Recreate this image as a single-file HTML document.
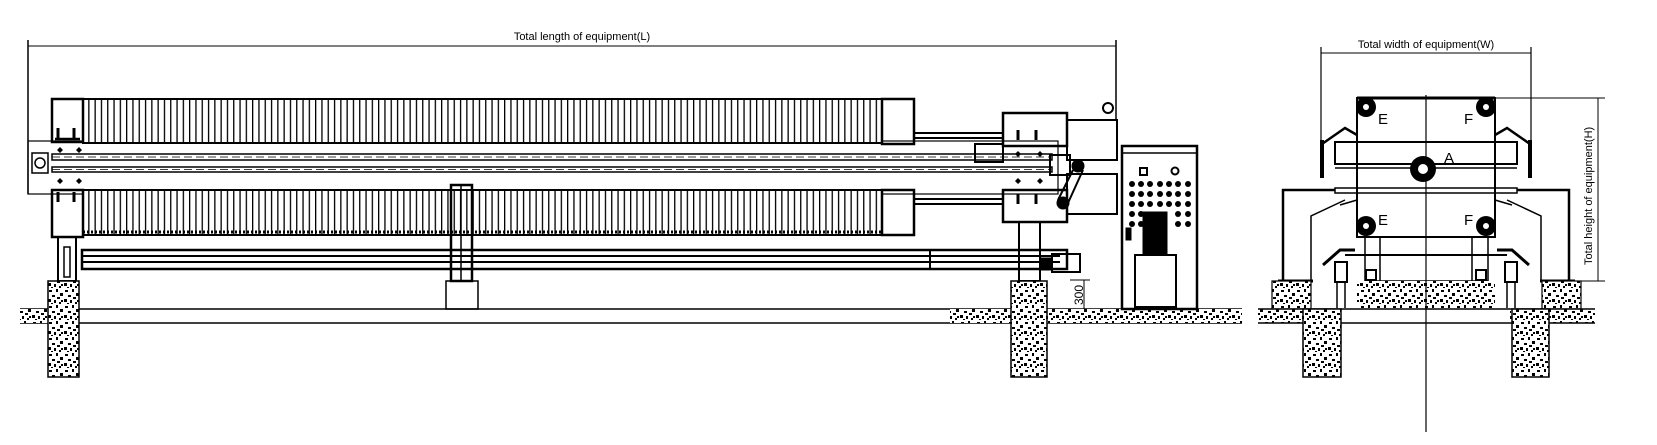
<!DOCTYPE html>
<html><head><meta charset="utf-8"><style>
html,body{margin:0;padding:0;background:#fff;width:1657px;height:445px;overflow:hidden}
svg{display:block}
text{font-family:"Liberation Sans",sans-serif;fill:#000}
</style></head><body>
<svg width="1657" height="445" viewBox="0 0 1657 445" xmlns="http://www.w3.org/2000/svg">
<defs>
<pattern id="pl" width="6.3" height="10" patternUnits="userSpaceOnUse">
<rect width="6.3" height="10" fill="#fff"/><rect x="0" width="1.3" height="10" fill="#000"/></pattern>
<pattern id="cc" width="16" height="16" patternUnits="userSpaceOnUse">
<rect width="16" height="16" fill="#fff"/>
<g fill="#000"><rect x="1" y="2" width="3" height="2"/><rect x="8" y="1" width="2" height="3"/><rect x="12" y="5" width="3" height="3"/><rect x="4" y="7" width="3" height="2"/><rect x="9" y="9" width="3" height="2"/><rect x="0" y="11" width="3" height="3"/><rect x="6" y="12" width="2" height="3"/><rect x="13" y="12" width="2" height="2"/><rect x="11" y="14" width="2" height="2"/><rect x="3" y="15" width="2" height="1"/></g></pattern>
</defs>
<g stroke="#000" fill="none">
<line x1="28" y1="46" x2="1116" y2="46" stroke-width="1"/>
<line x1="28" y1="40" x2="28" y2="194" stroke-width="1.5"/>
<line x1="1116" y1="40" x2="1116" y2="120" stroke-width="1.5"/>
<rect x="28" y="141" width="1030" height="53" stroke-width="1.2"/>
<rect x="52" y="154" width="1000" height="6" stroke-width="1.5"/>
<rect x="52" y="167" width="1000" height="5" stroke-width="1.5"/>
<line x1="52" y1="157" x2="1050" y2="157" stroke-dasharray="8 4" stroke-width="0.8"/>
<line x1="52" y1="169.5" x2="1050" y2="169.5" stroke-dasharray="8 4" stroke-width="0.8"/>
<rect x="32" y="153" width="16" height="20" stroke-width="1.5"/>
<circle cx="40" cy="163" r="5" stroke-width="1.5"/>
<rect x="83" y="99" width="799" height="44" fill="url(#pl)" stroke-width="2"/>
<rect x="83" y="190" width="799" height="45" fill="url(#pl)" stroke-width="2"/>
<line x1="83" y1="232" x2="882" y2="232" stroke-width="3" stroke-dasharray="2 2"/>
<rect x="52" y="99" width="31" height="43" stroke-width="2.5"/>
<rect x="52" y="190" width="31" height="47" stroke-width="2.5"/>
<rect x="882" y="99" width="32" height="45" stroke-width="2.5"/>
<rect x="882" y="190" width="32" height="45" stroke-width="2.5"/>
<path d="M58 138V128M74 138V128M58 192V202M74 192V202" stroke-width="3"/>
<line x1="55" y1="139" x2="80" y2="139" stroke-width="2.5"/>
<path d="M914 133H1003M914 138H1003M914 199H1003M914 204H1003" stroke-width="2"/>
<rect x="975" y="144" width="28" height="18" stroke-width="2"/>
<rect x="1003" y="113" width="64" height="33" stroke-width="2.5"/>
<rect x="1003" y="190" width="64" height="32" stroke-width="2.5"/>
<path d="M1018 140V130M1036 140V130M1018 194V204M1036 194V204" stroke-width="3"/>
<rect x="1067" y="120" width="50" height="40" stroke-width="2"/>
<rect x="1067" y="174" width="50" height="40" stroke-width="2"/>
<circle cx="1108" cy="108" r="5" stroke-width="2"/>
<rect x="1050" y="155" width="20" height="20" stroke-width="2"/>
<circle cx="1078" cy="166" r="6" fill="#000"/>
<circle cx="1063" cy="203" r="6" fill="#000"/>
<line x1="1073" y1="170" x2="1058" y2="200" stroke-width="2"/>
<line x1="1083" y1="170" x2="1068" y2="203" stroke-width="2"/>
<rect x="82" y="250" width="985" height="19" stroke-width="2.5"/>
<line x1="82" y1="256" x2="1060" y2="256" stroke-width="2"/>
<line x1="82" y1="262" x2="1060" y2="262" stroke-width="2"/>
<line x1="930" y1="250" x2="930" y2="269" stroke-width="2"/>
<rect x="58" y="237" width="18" height="44" stroke-width="2"/>
<rect x="64" y="247" width="6" height="30" stroke-width="1.5"/>
<rect x="1019" y="222" width="21" height="59" stroke-width="2"/>
<rect x="1052" y="254" width="28" height="18" stroke-width="2"/>
<rect x="1040" y="258" width="12" height="12" fill="#000"/>
<rect x="451" y="185" width="21" height="96" stroke-width="2.5"/>
<line x1="461" y1="185" x2="461" y2="281" stroke-width="1.5"/>
<rect x="446" y="281" width="32" height="28" stroke-width="1.5"/>
<line x1="20" y1="309" x2="1242" y2="309" stroke-width="1.5"/>
<line x1="20" y1="323" x2="1242" y2="323" stroke-width="1.5"/>
<rect x="20" y="309" width="30" height="14" fill="url(#cc)" stroke="none"/>
<rect x="950" y="309" width="292" height="14" fill="url(#cc)" stroke="none"/>
<rect x="48" y="281" width="31" height="96" fill="url(#cc)" stroke-width="1.5"/>
<rect x="1011" y="281" width="36" height="96" fill="url(#cc)" stroke-width="1.5"/>
<line x1="1070" y1="280" x2="1090" y2="280" stroke-width="1"/>
<line x1="1084" y1="280" x2="1084" y2="309" stroke-width="1"/>
<rect x="1122" y="146" width="75" height="163" stroke-width="2.5"/>
<line x1="1122" y1="153" x2="1197" y2="153" stroke-width="1.5"/>
<rect x="1140" y="168" width="7" height="7" stroke-width="2"/>
<circle cx="1175" cy="171" r="3.5" stroke-width="2"/>
<rect x="1143" y="212" width="24" height="43" fill="#000"/>
<rect x="1135" y="255" width="41" height="52" stroke-width="2"/>
<rect x="1126" y="228" width="5" height="12" fill="#000"/>
</g>
<g fill="#000">
<circle cx="1132" cy="184" r="3"/><circle cx="1141" cy="184" r="3"/><circle cx="1150" cy="184" r="3"/><circle cx="1160" cy="184" r="3"/><circle cx="1169" cy="184" r="3"/><circle cx="1178" cy="184" r="3"/><circle cx="1188" cy="184" r="3"/>
<circle cx="1132" cy="194" r="3"/><circle cx="1141" cy="194" r="3"/><circle cx="1150" cy="194" r="3"/><circle cx="1160" cy="194" r="3"/><circle cx="1169" cy="194" r="3"/><circle cx="1178" cy="194" r="3"/><circle cx="1188" cy="194" r="3"/>
<circle cx="1132" cy="204" r="3"/><circle cx="1141" cy="204" r="3"/><circle cx="1150" cy="204" r="3"/><circle cx="1160" cy="204" r="3"/><circle cx="1169" cy="204" r="3"/><circle cx="1178" cy="204" r="3"/><circle cx="1188" cy="204" r="3"/>
<circle cx="1132" cy="214" r="3"/><circle cx="1141" cy="214" r="3"/><circle cx="1178" cy="214" r="3"/><circle cx="1188" cy="214" r="3"/>
<circle cx="1132" cy="224" r="3"/><circle cx="1141" cy="224" r="3"/><circle cx="1178" cy="224" r="3"/><circle cx="1188" cy="224" r="3"/>
<path d="M57 150l3-3 3 3-3 3zM76 150l3-3 3 3-3 3zM57 181l3-3 3 3-3 3zM76 181l3-3 3 3-3 3zM1015 154l3-3 3 3-3 3zM1037 154l3-3 3 3-3 3zM1015 181l3-3 3 3-3 3zM1037 181l3-3 3 3-3 3z"/>
</g>
<text x="582" y="40" font-size="11" text-anchor="middle">Total length of equipment(L)</text>
<text transform="translate(1083,305) rotate(-90)" font-size="12">300</text>

<g stroke="#000" fill="none">
<line x1="1321" y1="53" x2="1531" y2="53" stroke-width="1"/>
<line x1="1321" y1="47" x2="1321" y2="140" stroke-width="1.2"/>
<line x1="1531" y1="47" x2="1531" y2="140" stroke-width="1.2"/>
<line x1="1495" y1="98" x2="1605" y2="98" stroke-width="1"/>
<line x1="1598" y1="98" x2="1598" y2="281" stroke-width="1"/>
<line x1="1540" y1="281" x2="1605" y2="281" stroke-width="1"/>
<rect x="1357" y="98" width="138" height="139" stroke-width="2"/>
<line x1="1357" y1="98" x2="1495" y2="98" stroke-width="3"/>
<rect x="1335" y="142" width="182" height="22" stroke-width="2"/>
<line x1="1335" y1="168" x2="1517" y2="168" stroke-width="1.5"/>
<rect x="1335" y="188" width="182" height="5" stroke-width="1.5"/>
<path d="M1322 144L1345 128L1357 135M1530 144L1507 128L1495 135" stroke-width="2.5"/>
<path d="M1322 140V178M1530 140V178" stroke-width="4"/>
<path d="M1283 280V190H1335M1569 280V190H1517" stroke-width="2.5"/>
<path d="M1311 280V216L1345 200M1541 280V216L1507 200" stroke-width="1.5"/>
<path d="M1340 205L1357 200M1512 205L1495 200" stroke-width="1.5"/>
<rect x="1365" y="237" width="123" height="44" stroke-width="1.5"/>
<line x1="1380" y1="237" x2="1380" y2="281" stroke-width="1.5"/>
<line x1="1472" y1="237" x2="1472" y2="281" stroke-width="1.5"/>
<line x1="1345" y1="255" x2="1507" y2="255" stroke-width="2"/>
<path d="M1323 265L1340 250H1355M1529 265L1512 250H1497" stroke-width="3"/>
<rect x="1335" y="262" width="12" height="20" stroke-width="2"/>
<rect x="1505" y="262" width="12" height="20" stroke-width="2"/>
<rect x="1366" y="270" width="10" height="10" stroke-width="2"/>
<rect x="1476" y="270" width="10" height="10" stroke-width="2"/>
<path d="M1337 282V308M1345 282V308M1507 282V308M1515 282V308" stroke-width="1.5"/>
<line x1="1278" y1="281" x2="1313" y2="281" stroke-width="3"/>
<line x1="1540" y1="281" x2="1575" y2="281" stroke-width="3"/>
<rect x="1272" y="281" width="39" height="28" fill="url(#cc)" stroke-width="1.2"/>
<rect x="1542" y="281" width="39" height="28" fill="url(#cc)" stroke-width="1.2"/>
<rect x="1357" y="281" width="138" height="28" fill="url(#cc)" stroke="none"/>
<rect x="1258" y="309" width="79" height="14" fill="url(#cc)" stroke="none"/>
<rect x="1510" y="309" width="85" height="14" fill="url(#cc)" stroke="none"/>
<line x1="1258" y1="309" x2="1595" y2="309" stroke-width="1.5"/>
<line x1="1258" y1="323" x2="1595" y2="323" stroke-width="1.5"/>
<rect x="1303" y="309" width="38" height="68" fill="url(#cc)" stroke-width="1.5"/>
<rect x="1512" y="309" width="37" height="68" fill="url(#cc)" stroke-width="1.5"/>
<line x1="1426" y1="95" x2="1426" y2="432" stroke-width="1.2"/>
</g>
<g fill="#000">
<circle cx="1366" cy="107" r="10"/><circle cx="1486" cy="107" r="10"/>
<circle cx="1366" cy="226" r="10"/><circle cx="1486" cy="226" r="10"/>
<circle cx="1423" cy="169" r="13"/>
</g>
<circle cx="1423" cy="169" r="5" fill="#fff"/>
<circle cx="1366" cy="107" r="3" fill="#fff"/><circle cx="1486" cy="107" r="3" fill="#fff"/>
<circle cx="1366" cy="226" r="3" fill="#fff"/><circle cx="1486" cy="226" r="3" fill="#fff"/>
<text x="1426" y="48" font-size="11" text-anchor="middle">Total width of equipment(W)</text>
<text x="1378" y="124" font-size="15">E</text><text x="1464" y="124" font-size="15">F</text>
<text x="1378" y="225" font-size="15">E</text><text x="1464" y="225" font-size="15">F</text>
<text x="1444" y="163" font-size="15">A</text>
<text transform="translate(1592,265) rotate(-90)" font-size="11">Total height of equipment(H)</text>
</svg>
</body></html>
